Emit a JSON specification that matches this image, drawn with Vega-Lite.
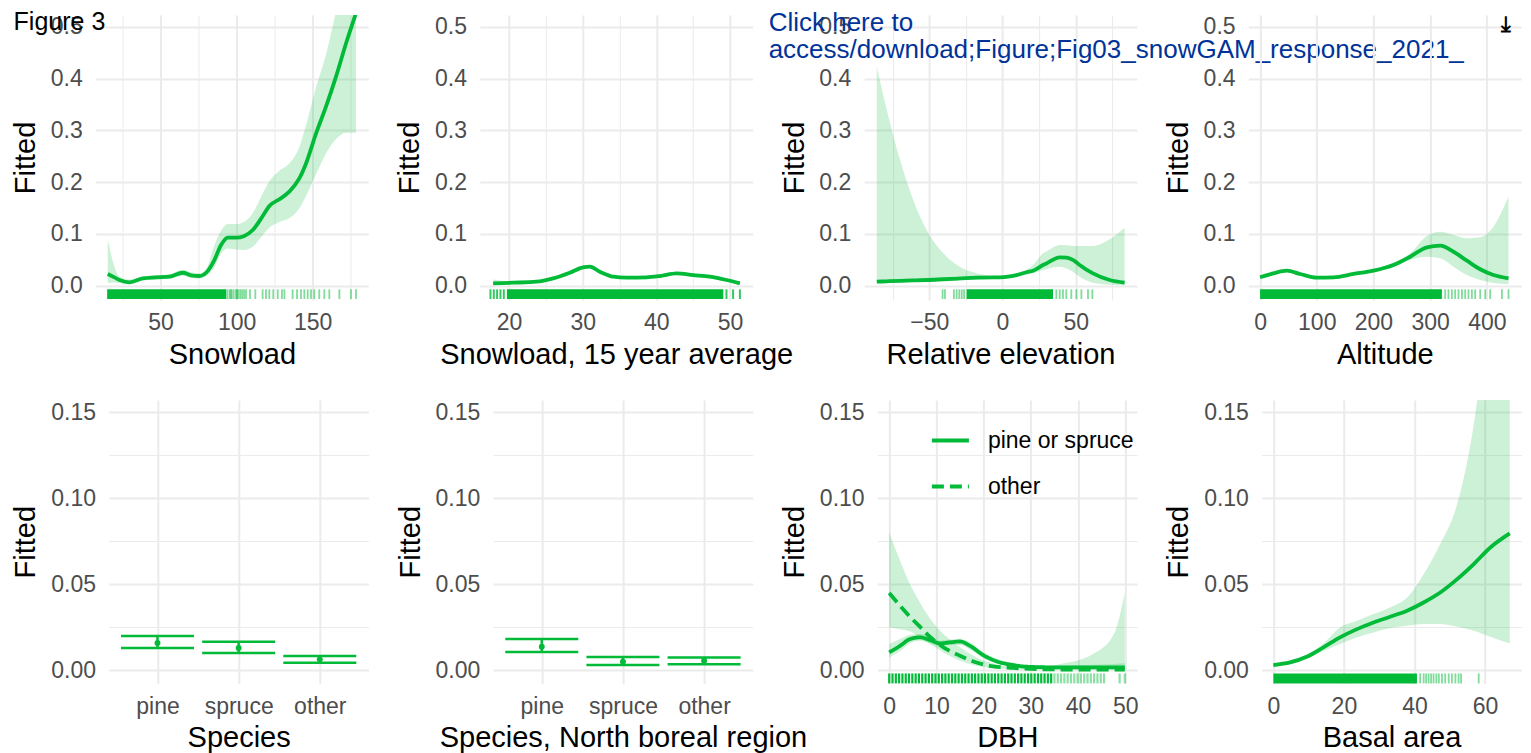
{
  "$schema": "https://vega.github.io/schema/vega-lite/v6.json",
  "background": "white",
  "padding": {"left": 10.5, "top": 10, "right": 0, "bottom": 0},
  "config": {
    "view": {"stroke": null},
    "font": "Liberation Sans",
    "axis": {"domain": false, "ticks": false, "tickSize": 0, "grid": true, "labelFont": "Liberation Sans", "labelFontSize": 23, "labelColor": "#4D4D4D", "titleFont": "Liberation Sans", "titleFontSize": 29, "titleFontWeight": "normal", "titleColor": "#000000", "gridColor": "#EBEBEB", "labelFlush": false, "labelOverlap": false, "titleLimit": 2000, "labelLimit": 500},
    "axisX": {"labelPadding": 11.8, "titlePadding": 5.6},
    "axisY": {"labelPadding": 13.3, "titlePadding": 9.8}
  },
  "datasets": {
    "snow": [
      {"x": 15.4, "fit": 0.0226, "lo": 0.005, "hi": 0.0895},
      {"x": 19.8, "fit": 0.016, "lo": 0.006, "hi": 0.0367},
      {"x": 23.1, "fit": 0.011, "lo": 0.005, "hi": 0.0174},
      {"x": 29.7, "fit": 0.0065, "lo": 0.003, "hi": 0.012},
      {"x": 38.4, "fit": 0.014, "lo": 0.01, "hi": 0.018},
      {"x": 47, "fit": 0.016, "lo": 0.012, "hi": 0.02},
      {"x": 55.9, "fit": 0.0174, "lo": 0.013, "hi": 0.022},
      {"x": 64.6, "fit": 0.025, "lo": 0.019, "hi": 0.031},
      {"x": 70.1, "fit": 0.02, "lo": 0.015, "hi": 0.026},
      {"x": 75.6, "fit": 0.0187, "lo": 0.014, "hi": 0.024},
      {"x": 80, "fit": 0.025, "lo": 0.019, "hi": 0.032},
      {"x": 85.4, "fit": 0.0496, "lo": 0.035, "hi": 0.078},
      {"x": 89.8, "fit": 0.0786, "lo": 0.062, "hi": 0.106},
      {"x": 94.2, "fit": 0.093, "lo": 0.072, "hi": 0.119},
      {"x": 99.6, "fit": 0.0927, "lo": 0.07, "hi": 0.119},
      {"x": 105.1, "fit": 0.096, "lo": 0.069, "hi": 0.1236},
      {"x": 110.6, "fit": 0.1075, "lo": 0.075, "hi": 0.14},
      {"x": 117.2, "fit": 0.1346, "lo": 0.098, "hi": 0.178},
      {"x": 121.5, "fit": 0.154, "lo": 0.112, "hi": 0.2015},
      {"x": 128.1, "fit": 0.1668, "lo": 0.123, "hi": 0.222},
      {"x": 134.6, "fit": 0.1815, "lo": 0.13, "hi": 0.236},
      {"x": 141.2, "fit": 0.207, "lo": 0.149, "hi": 0.268},
      {"x": 145.6, "fit": 0.236, "lo": 0.173, "hi": 0.31},
      {"x": 152.2, "fit": 0.294, "lo": 0.215, "hi": 0.383},
      {"x": 158.7, "fit": 0.3456, "lo": 0.255, "hi": 0.446},
      {"x": 165.3, "fit": 0.4035, "lo": 0.283, "hi": 0.53},
      {"x": 171.9, "fit": 0.468, "lo": 0.2954, "hi": 0.62},
      {"x": 178.4, "fit": 0.526, "lo": 0.2954, "hi": 0.72}
    ],
    "rug_snow": [
      {"x": 15.0, "x2": 93.1},
      {"x": 93.8}, {"x": 95.3}, {"x": 96.1}, {"x": 96.8}, {"x": 98.1}, {"x": 99.6}, {"x": 100.3}, {"x": 101.0}, {"x": 102.3}, {"x": 103.6}, {"x": 104.9}, {"x": 106.2}, {"x": 108.8}, {"x": 112.3}, {"x": 117.1}, {"x": 119.3}, {"x": 121.5}, {"x": 124.1}, {"x": 127.0}, {"x": 129.8}, {"x": 131.4}, {"x": 136.8}, {"x": 139.7}, {"x": 142.3}, {"x": 144.5}, {"x": 146.7}, {"x": 148.9}, {"x": 151.0}, {"x": 154.3}, {"x": 157.6}, {"x": 160.9}, {"x": 167.5}, {"x": 175.1}, {"x": 178.4}
    ],
    "snow15": [
      {"x": 17.83, "fit": 0.0046, "lo": 0.002, "hi": 0.012},
      {"x": 20.55, "fit": 0.0058, "lo": 0.004, "hi": 0.008},
      {"x": 23.72, "fit": 0.0077, "lo": 0.006, "hi": 0.0095},
      {"x": 25.98, "fit": 0.0142, "lo": 0.012, "hi": 0.0165},
      {"x": 28.25, "fit": 0.0251, "lo": 0.022, "hi": 0.028},
      {"x": 30.06, "fit": 0.0355, "lo": 0.032, "hi": 0.039},
      {"x": 30.97, "fit": 0.0367, "lo": 0.033, "hi": 0.04},
      {"x": 32.32, "fit": 0.027, "lo": 0.024, "hi": 0.03},
      {"x": 34.13, "fit": 0.0174, "lo": 0.015, "hi": 0.02},
      {"x": 35.95, "fit": 0.0155, "lo": 0.013, "hi": 0.018},
      {"x": 38.67, "fit": 0.0161, "lo": 0.0135, "hi": 0.0187},
      {"x": 40.48, "fit": 0.0187, "lo": 0.016, "hi": 0.0215},
      {"x": 42.74, "fit": 0.0239, "lo": 0.021, "hi": 0.027},
      {"x": 45.0, "fit": 0.0206, "lo": 0.018, "hi": 0.0235},
      {"x": 47.27, "fit": 0.0174, "lo": 0.0145, "hi": 0.0205},
      {"x": 49.53, "fit": 0.011, "lo": 0.008, "hi": 0.0145},
      {"x": 51.35, "fit": 0.0046, "lo": 0.002, "hi": 0.008}
    ],
    "rug_snow15": [
      {"x": 19.7, "x2": 49.1},
      {"x": 17.47}, {"x": 17.92}, {"x": 18.37}, {"x": 18.83}, {"x": 19.28}, {"x": 49.53}, {"x": 50.43}, {"x": 51.35}
    ],
    "relel": [
      {"x": -85.85, "fit": 0.0077, "lo": 0.005, "hi": 0.423},
      {"x": -79.0, "fit": 0.0085, "lo": 0.0055, "hi": 0.339},
      {"x": -70.0, "fit": 0.0095, "lo": 0.006, "hi": 0.243},
      {"x": -60.9, "fit": 0.0103, "lo": 0.007, "hi": 0.165},
      {"x": -51.8, "fit": 0.011, "lo": 0.008, "hi": 0.1075},
      {"x": -40.4, "fit": 0.0125, "lo": 0.009, "hi": 0.0625},
      {"x": -29.1, "fit": 0.014, "lo": 0.0105, "hi": 0.0367},
      {"x": -17.7, "fit": 0.0155, "lo": 0.012, "hi": 0.024},
      {"x": -6.4, "fit": 0.016, "lo": 0.013, "hi": 0.0187},
      {"x": -1.8, "fit": 0.016, "lo": 0.0135, "hi": 0.019},
      {"x": 5.0, "fit": 0.018, "lo": 0.015, "hi": 0.0206},
      {"x": 9.6, "fit": 0.0206, "lo": 0.017, "hi": 0.024},
      {"x": 16.4, "fit": 0.026, "lo": 0.021, "hi": 0.0303},
      {"x": 20.9, "fit": 0.029, "lo": 0.024, "hi": 0.04},
      {"x": 27.7, "fit": 0.04, "lo": 0.03, "hi": 0.0625},
      {"x": 30.0, "fit": 0.043, "lo": 0.032, "hi": 0.066},
      {"x": 39.1, "fit": 0.0548, "lo": 0.0367, "hi": 0.0786},
      {"x": 43.7, "fit": 0.054, "lo": 0.033, "hi": 0.078},
      {"x": 50.5, "fit": 0.045, "lo": 0.022, "hi": 0.0766},
      {"x": 52.7, "fit": 0.04, "lo": 0.0174, "hi": 0.0766},
      {"x": 61.8, "fit": 0.0239, "lo": 0.0058, "hi": 0.0766},
      {"x": 73.2, "fit": 0.011, "lo": 0.002, "hi": 0.0895},
      {"x": 83.4, "fit": 0.0058, "lo": 0.001, "hi": 0.112}
    ],
    "rug_relel": [
      {"x": -24.5, "x2": 34.5},
      {"x": -40.9}, {"x": -39.3}, {"x": -33.2}, {"x": -31.3}, {"x": -29.5}, {"x": -27.8}, {"x": -26.2}, {"x": 36.8}, {"x": 39.1}, {"x": 41.3}, {"x": 43.6}, {"x": 47.0}, {"x": 50.5}, {"x": 53.9}, {"x": 58.4}, {"x": 61.4}
    ],
    "alt": [
      {"x": 0, "fit": 0.0162, "lo": 0.013, "hi": 0.019},
      {"x": 23.5, "fit": 0.0239, "lo": 0.021, "hi": 0.027},
      {"x": 47.2, "fit": 0.029, "lo": 0.026, "hi": 0.031},
      {"x": 70.6, "fit": 0.0226, "lo": 0.02, "hi": 0.025},
      {"x": 100.1, "fit": 0.0155, "lo": 0.013, "hi": 0.018},
      {"x": 129.4, "fit": 0.0162, "lo": 0.014, "hi": 0.0185},
      {"x": 164.7, "fit": 0.0226, "lo": 0.02, "hi": 0.025},
      {"x": 200, "fit": 0.029, "lo": 0.026, "hi": 0.032},
      {"x": 235.3, "fit": 0.04, "lo": 0.036, "hi": 0.045},
      {"x": 264.7, "fit": 0.056, "lo": 0.0496, "hi": 0.0625},
      {"x": 294.2, "fit": 0.074, "lo": 0.056, "hi": 0.096},
      {"x": 317.7, "fit": 0.0772, "lo": 0.053, "hi": 0.104},
      {"x": 341.1, "fit": 0.0656, "lo": 0.0367, "hi": 0.098},
      {"x": 364.8, "fit": 0.0483, "lo": 0.0206, "hi": 0.0915},
      {"x": 388.3, "fit": 0.0317, "lo": 0.011, "hi": 0.0934},
      {"x": 411.7, "fit": 0.0206, "lo": 0.005, "hi": 0.114},
      {"x": 438.2, "fit": 0.0142, "lo": 0.003, "hi": 0.172}
    ],
    "rug_alt": [
      {"x": 0, "x2": 320.7},
      {"x": 326.5}, {"x": 332.3}, {"x": 338.3}, {"x": 344.1}, {"x": 350.0}, {"x": 356.0}, {"x": 361.8}, {"x": 367.6}, {"x": 373.6}, {"x": 379.4}, {"x": 388.3}, {"x": 397.1}, {"x": 405.9}, {"x": 426.6}, {"x": 438.2}
    ],
    "species": [
      {"sp": "pine", "fit": 0.0157, "lo": 0.0128, "hi": 0.0198},
      {"sp": "spruce", "fit": 0.0128, "lo": 0.0099, "hi": 0.0165},
      {"sp": "other", "fit": 0.0062, "lo": 0.0042, "hi": 0.0081}
    ],
    "speciesN": [
      {"sp": "pine", "fit": 0.0136, "lo": 0.0105, "hi": 0.018},
      {"sp": "spruce", "fit": 0.0048, "lo": 0.0029, "hi": 0.0076},
      {"sp": "other", "fit": 0.0054, "lo": 0.0033, "hi": 0.0073}
    ],
    "dbh": [
      {"series": "pine or spruce", "x": 0, "fit": 0.0102, "lo": 0.0073, "hi": 0.0151},
      {"series": "pine or spruce", "x": 2.3, "fit": 0.0141, "lo": 0.011, "hi": 0.018},
      {"series": "pine or spruce", "x": 4.4, "fit": 0.018, "lo": 0.0155, "hi": 0.0205},
      {"series": "pine or spruce", "x": 6.5, "fit": 0.019, "lo": 0.017, "hi": 0.021},
      {"series": "pine or spruce", "x": 8.6, "fit": 0.0175, "lo": 0.0155, "hi": 0.0195},
      {"series": "pine or spruce", "x": 10.8, "fit": 0.0155, "lo": 0.014, "hi": 0.017},
      {"series": "pine or spruce", "x": 12.9, "fit": 0.0161, "lo": 0.0145, "hi": 0.0177},
      {"series": "pine or spruce", "x": 15.0, "fit": 0.0166, "lo": 0.0145, "hi": 0.018},
      {"series": "pine or spruce", "x": 17.1, "fit": 0.0141, "lo": 0.012, "hi": 0.0162},
      {"series": "pine or spruce", "x": 19.9, "fit": 0.0087, "lo": 0.007, "hi": 0.0105},
      {"series": "pine or spruce", "x": 22.8, "fit": 0.005, "lo": 0.0037, "hi": 0.0065},
      {"series": "pine or spruce", "x": 26.3, "fit": 0.0029, "lo": 0.002, "hi": 0.004},
      {"series": "pine or spruce", "x": 29.1, "fit": 0.0019, "lo": 0.001, "hi": 0.003},
      {"series": "pine or spruce", "x": 36.2, "fit": 0.0015, "lo": 0.0008, "hi": 0.0025},
      {"series": "pine or spruce", "x": 43.2, "fit": 0.0015, "lo": 0.0007, "hi": 0.003},
      {"series": "pine or spruce", "x": 49.9, "fit": 0.0015, "lo": 0.0005, "hi": 0.004},
      {"series": "other", "x": 0, "fit": 0.0448, "lo": 0.0248, "hi": 0.08},
      {"series": "other", "x": 2.3, "fit": 0.0374, "lo": 0.0238, "hi": 0.0636},
      {"series": "other", "x": 4.4, "fit": 0.031, "lo": 0.0225, "hi": 0.05},
      {"series": "other", "x": 6.5, "fit": 0.0252, "lo": 0.019, "hi": 0.0393},
      {"series": "other", "x": 8.6, "fit": 0.0194, "lo": 0.0151, "hi": 0.0302},
      {"series": "other", "x": 11.5, "fit": 0.0132, "lo": 0.0102, "hi": 0.021},
      {"series": "other", "x": 15.0, "fit": 0.0083, "lo": 0.0054, "hi": 0.0132},
      {"series": "other", "x": 18.5, "fit": 0.0044, "lo": 0.0025, "hi": 0.0073},
      {"series": "other", "x": 22.0, "fit": 0.0021, "lo": 0.001, "hi": 0.0038},
      {"series": "other", "x": 26.3, "fit": 0.0012, "lo": 0.0005, "hi": 0.002},
      {"series": "other", "x": 32.6, "fit": 0.0004, "lo": 0.0001, "hi": 0.0018},
      {"series": "other", "x": 36.2, "fit": 0.0003, "lo": 0.0001, "hi": 0.0035},
      {"series": "other", "x": 39.7, "fit": 0.0003, "lo": 0.0001, "hi": 0.0054},
      {"series": "other", "x": 43.2, "fit": 0.0002, "lo": 0.0001, "hi": 0.0093},
      {"series": "other", "x": 47.6, "fit": 0.0002, "lo": 0.0001, "hi": 0.021},
      {"series": "other", "x": 49.9, "fit": 0.0002, "lo": 0.0001, "hi": 0.045}
    ],
    "rug_dbh": [
      {"x": 0}, {"x": 0.7}, {"x": 1.4}, {"x": 2.1}, {"x": 2.8}, {"x": 3.5}, {"x": 4.2}, {"x": 4.9}, {"x": 5.6}, {"x": 6.3}, {"x": 7.0}, {"x": 7.7}, {"x": 8.4}, {"x": 9.1}, {"x": 9.8}, {"x": 10.5}, {"x": 11.2}, {"x": 11.9}, {"x": 12.6}, {"x": 13.3}, {"x": 14.0}, {"x": 14.7}, {"x": 15.4}, {"x": 16.1}, {"x": 16.8}, {"x": 17.5}, {"x": 18.2}, {"x": 18.9}, {"x": 19.6}, {"x": 20.3}, {"x": 21.0}, {"x": 21.7}, {"x": 22.4}, {"x": 23.1}, {"x": 23.8}, {"x": 24.5}, {"x": 25.2}, {"x": 25.9}, {"x": 26.6}, {"x": 27.3}, {"x": 28.0}, {"x": 28.7}, {"x": 29.4}, {"x": 30.1}, {"x": 30.8}, {"x": 31.5}, {"x": 32.2}, {"x": 32.9}, {"x": 33.6}, {"x": 34.3}, {"x": 35.0}, {"x": 35.7}, {"x": 36.4}, {"x": 37.1}, {"x": 37.8}, {"x": 38.5}, {"x": 39.2}, {"x": 39.9}, {"x": 40.6}, {"x": 41.3}, {"x": 42.0}, {"x": 42.7}, {"x": 43.4}, {"x": 44.1}, {"x": 44.8}, {"x": 45.5}, {"x": 48.8}, {"x": 49.9}
    ],
    "basal": [
      {"x": 0, "fit": 0.0029, "lo": 0.002, "hi": 0.004},
      {"x": 4.73, "fit": 0.0044, "lo": 0.0033, "hi": 0.0057},
      {"x": 9.47, "fit": 0.0077, "lo": 0.0065, "hi": 0.009},
      {"x": 14.2, "fit": 0.0132, "lo": 0.011, "hi": 0.0155},
      {"x": 18.9, "fit": 0.019, "lo": 0.0151, "hi": 0.0248},
      {"x": 23.7, "fit": 0.0238, "lo": 0.019, "hi": 0.0287},
      {"x": 28.4, "fit": 0.0277, "lo": 0.0219, "hi": 0.0326},
      {"x": 33.1, "fit": 0.031, "lo": 0.0244, "hi": 0.0364},
      {"x": 37.9, "fit": 0.0345, "lo": 0.0258, "hi": 0.0422},
      {"x": 42.6, "fit": 0.0393, "lo": 0.0268, "hi": 0.0558},
      {"x": 47.3, "fit": 0.0451, "lo": 0.0268, "hi": 0.0733},
      {"x": 52.1, "fit": 0.0529, "lo": 0.0252, "hi": 0.0966},
      {"x": 56.8, "fit": 0.0617, "lo": 0.0229, "hi": 0.143},
      {"x": 61.5, "fit": 0.0713, "lo": 0.0194, "hi": 0.22},
      {"x": 67.0, "fit": 0.0795, "lo": 0.0155, "hi": 0.3}
    ],
    "rug_basal": [
      {"x": 0, "x2": 40.7},
      {"x": 41.6}, {"x": 42.6}, {"x": 43.3}, {"x": 44.0}, {"x": 44.7}, {"x": 45.4}, {"x": 46.2}, {"x": 46.9}, {"x": 47.8}, {"x": 48.7}, {"x": 49.7}, {"x": 50.6}, {"x": 51.6}, {"x": 52.5}, {"x": 53.2}, {"x": 58.2}
    ]
  },
  "spacing": 30,
  "vconcat": [
    {
      "bounds": "flush",
      "spacing": 111.3,
      "hconcat": [
        {
          "width": 272.8, "height": 285,
          "layer": [
            {"data": {"name": "snow"}, "mark": {"type": "area", "clip": true, "interpolate": "monotone", "color": "#00BA38", "opacity": 0.2},
             "encoding": {
               "x": {"field": "x", "type": "quantitative", "title": "Snowload", "scale": {"domain": [7.35, 186.5], "nice": false, "zero": false},
                     "axis": {"values": [25, 50, 75, 100, 125, 150, 175], "labelExpr": "datum.value % 50 === 0 ? datum.label : ''", "gridWidth": {"condition": {"test": "datum.value % 50 === 0", "value": 2}, "value": 1}}},
               "y": {"field": "lo", "type": "quantitative", "title": "Fitted", "scale": {"domain": [-0.0276, 0.5226], "nice": false, "zero": false},
                     "axis": {"values": [0, 0.05, 0.1, 0.15, 0.2, 0.25, 0.3, 0.35, 0.4, 0.45, 0.5], "format": ".1f", "labelExpr": "round(datum.value * 100) % 10 === 0 ? datum.label : ''", "gridWidth": {"condition": {"test": "round(datum.value * 100) % 10 === 0", "value": 2}, "value": 1}}},
               "y2": {"field": "hi"}
             }},
            {"data": {"name": "rug_snow"}, "transform": [{"filter": "isValid(datum.x2)"}], "mark": {"type": "rect", "color": "#00BA38"},
             "encoding": {"x": {"field": "x", "type": "quantitative", "title": "Snowload"}, "x2": {"field": "x2"}, "y": {"datum": -0.007, "type": "quantitative", "title": "Fitted"}, "y2": {"datum": -0.0257}}},
            {"data": {"name": "rug_snow"}, "transform": [{"filter": "!isValid(datum.x2)"}], "mark": {"type": "rule", "color": "#00BA38", "strokeWidth": 1.8, "opacity": 0.5},
             "encoding": {"x": {"field": "x", "type": "quantitative", "title": "Snowload"}, "y": {"datum": -0.007, "type": "quantitative", "title": "Fitted"}, "y2": {"datum": -0.0257}}},
            {"data": {"name": "snow"}, "mark": {"type": "line", "clip": true, "interpolate": "monotone", "color": "#00BA38", "strokeWidth": 3.8},
             "encoding": {"x": {"field": "x", "type": "quantitative", "title": "Snowload"}, "y": {"field": "fit", "type": "quantitative", "title": "Fitted"}}},
            {"data": {"values": [{}]}, "mark": {"type": "text", "text": "Figure 3", "align": "left", "baseline": "alphabetic", "fontSize": 25, "font": "Liberation Sans", "color": "#000000"},
             "encoding": {"x": {"datum": -46.45, "type": "quantitative", "title": "Snowload"}, "y": {"datum": 0.4936, "type": "quantitative", "title": "Fitted"}}}
          ]
        },
        {
          "width": 272.8, "height": 285,
          "layer": [
            {"data": {"name": "snow15"}, "mark": {"type": "area", "clip": true, "interpolate": "monotone", "color": "#00BA38", "opacity": 0.2},
             "encoding": {
               "x": {"field": "x", "type": "quantitative", "title": "Snowload, 15 year average", "scale": {"domain": [16.02, 53.08], "nice": false, "zero": false},
                     "axis": {"values": [20, 25, 30, 35, 40, 45, 50], "labelExpr": "datum.value % 10 === 0 ? datum.label : ''", "gridWidth": {"condition": {"test": "datum.value % 10 === 0", "value": 2}, "value": 1}}},
               "y": {"field": "lo", "type": "quantitative", "title": "Fitted", "scale": {"domain": [-0.0276, 0.5226], "nice": false, "zero": false},
                     "axis": {"values": [0, 0.05, 0.1, 0.15, 0.2, 0.25, 0.3, 0.35, 0.4, 0.45, 0.5], "format": ".1f", "labelExpr": "round(datum.value * 100) % 10 === 0 ? datum.label : ''", "gridWidth": {"condition": {"test": "round(datum.value * 100) % 10 === 0", "value": 2}, "value": 1}}},
               "y2": {"field": "hi"}
             }},
            {"data": {"name": "rug_snow15"}, "transform": [{"filter": "isValid(datum.x2)"}], "mark": {"type": "rect", "color": "#00BA38"},
             "encoding": {"x": {"field": "x", "type": "quantitative", "title": "Snowload, 15 year average"}, "x2": {"field": "x2"}, "y": {"datum": -0.007, "type": "quantitative", "title": "Fitted"}, "y2": {"datum": -0.0257}}},
            {"data": {"name": "rug_snow15"}, "transform": [{"filter": "!isValid(datum.x2)"}], "mark": {"type": "rule", "color": "#00BA38", "strokeWidth": 2, "opacity": 0.8},
             "encoding": {"x": {"field": "x", "type": "quantitative", "title": "Snowload, 15 year average"}, "y": {"datum": -0.007, "type": "quantitative", "title": "Fitted"}, "y2": {"datum": -0.0257}}},
            {"data": {"name": "snow15"}, "mark": {"type": "line", "clip": true, "interpolate": "monotone", "color": "#00BA38", "strokeWidth": 3.8},
             "encoding": {"x": {"field": "x", "type": "quantitative", "title": "Snowload, 15 year average"}, "y": {"field": "fit", "type": "quantitative", "title": "Fitted"}}}
          ]
        },
        {
          "width": 272.8, "height": 285,
          "layer": [
            {"data": {"name": "relel"}, "mark": {"type": "area", "clip": true, "interpolate": "monotone", "color": "#00BA38", "opacity": 0.2},
             "encoding": {
               "x": {"field": "x", "type": "quantitative", "title": "Relative elevation", "scale": {"domain": [-94.5, 91.8], "nice": false, "zero": false},
                     "axis": {"values": [-75, -50, -25, 0, 25, 50, 75], "labelExpr": "datum.value % 50 === 0 ? datum.label : ''", "gridWidth": {"condition": {"test": "datum.value % 50 === 0", "value": 2}, "value": 1}}},
               "y": {"field": "lo", "type": "quantitative", "title": "Fitted", "scale": {"domain": [-0.0276, 0.5226], "nice": false, "zero": false},
                     "axis": {"values": [0, 0.05, 0.1, 0.15, 0.2, 0.25, 0.3, 0.35, 0.4, 0.45, 0.5], "format": ".1f", "labelExpr": "round(datum.value * 100) % 10 === 0 ? datum.label : ''", "gridWidth": {"condition": {"test": "round(datum.value * 100) % 10 === 0", "value": 2}, "value": 1}}},
               "y2": {"field": "hi"}
             }},
            {"data": {"name": "rug_relel"}, "transform": [{"filter": "isValid(datum.x2)"}], "mark": {"type": "rect", "color": "#00BA38"},
             "encoding": {"x": {"field": "x", "type": "quantitative", "title": "Relative elevation"}, "x2": {"field": "x2"}, "y": {"datum": -0.007, "type": "quantitative", "title": "Fitted"}, "y2": {"datum": -0.0257}}},
            {"data": {"name": "rug_relel"}, "transform": [{"filter": "!isValid(datum.x2)"}], "mark": {"type": "rule", "color": "#00BA38", "strokeWidth": 1.8, "opacity": 0.5},
             "encoding": {"x": {"field": "x", "type": "quantitative", "title": "Relative elevation"}, "y": {"datum": -0.007, "type": "quantitative", "title": "Fitted"}, "y2": {"datum": -0.0257}}},
            {"data": {"name": "relel"}, "mark": {"type": "line", "clip": true, "interpolate": "monotone", "color": "#00BA38", "strokeWidth": 3.8},
             "encoding": {"x": {"field": "x", "type": "quantitative", "title": "Relative elevation"}, "y": {"field": "fit", "type": "quantitative", "title": "Fitted"}}},
            {"data": {"values": [{}]}, "mark": {"type": "text", "text": ["Click here to", "access/download;Figure;Fig03_snowGAM_response_2021_"], "lineHeight": 27.3, "align": "left", "baseline": "alphabetic", "fontSize": 26, "font": "Liberation Sans", "color": "#003399"},
             "encoding": {"x": {"datum": -159.7, "type": "quantitative", "title": "Relative elevation"}, "y": {"datum": 0.4917, "type": "quantitative", "title": "Fitted"}}}
          ]
        },
        {
          "width": 272.8, "height": 285,
          "layer": [
            {"data": {"name": "alt"}, "mark": {"type": "area", "clip": true, "interpolate": "monotone", "color": "#00BA38", "opacity": 0.2},
             "encoding": {
               "x": {"field": "x", "type": "quantitative", "title": "Altitude", "scale": {"domain": [-20.6, 460.6], "nice": false, "zero": false},
                     "axis": {"values": [0, 50, 100, 150, 200, 250, 300, 350, 400, 450], "labelExpr": "datum.value % 100 === 0 ? datum.label : ''", "gridWidth": {"condition": {"test": "datum.value % 100 === 0", "value": 2}, "value": 1}}},
               "y": {"field": "lo", "type": "quantitative", "title": "Fitted", "scale": {"domain": [-0.0276, 0.5226], "nice": false, "zero": false},
                     "axis": {"values": [0, 0.05, 0.1, 0.15, 0.2, 0.25, 0.3, 0.35, 0.4, 0.45, 0.5], "format": ".1f", "labelExpr": "round(datum.value * 100) % 10 === 0 ? datum.label : ''", "gridWidth": {"condition": {"test": "round(datum.value * 100) % 10 === 0", "value": 2}, "value": 1}}},
               "y2": {"field": "hi"}
             }},
            {"data": {"name": "rug_alt"}, "transform": [{"filter": "isValid(datum.x2)"}], "mark": {"type": "rect", "color": "#00BA38"},
             "encoding": {"x": {"field": "x", "type": "quantitative", "title": "Altitude"}, "x2": {"field": "x2"}, "y": {"datum": -0.007, "type": "quantitative", "title": "Fitted"}, "y2": {"datum": -0.0257}}},
            {"data": {"name": "rug_alt"}, "transform": [{"filter": "!isValid(datum.x2)"}], "mark": {"type": "rule", "color": "#00BA38", "strokeWidth": 1.8, "opacity": 0.5},
             "encoding": {"x": {"field": "x", "type": "quantitative", "title": "Altitude"}, "y": {"datum": -0.007, "type": "quantitative", "title": "Fitted"}, "y2": {"datum": -0.0257}}},
            {"data": {"name": "alt"}, "mark": {"type": "line", "clip": true, "interpolate": "monotone", "color": "#00BA38", "strokeWidth": 3.8},
             "encoding": {"x": {"field": "x", "type": "quantitative", "title": "Altitude"}, "y": {"field": "fit", "type": "quantitative", "title": "Fitted"}}},
            {"data": {"values": [{}]}, "mark": {"type": "text", "text": "⤓", "align": "center", "baseline": "middle", "fontSize": 22, "fontWeight": "bold", "font": "DejaVu Sans", "color": "#000000"},
             "encoding": {"x": {"datum": 433.3, "type": "quantitative", "title": "Altitude"}, "y": {"datum": 0.504, "type": "quantitative", "title": "Fitted"}}}
          ]
        }
      ]
    },
    {
      "bounds": "flush",
      "spacing": 12.3,
      "hconcat": [
        {"width": 1, "height": 1, "data": {"values": [{}]}, "mark": {"type": "point", "opacity": 0, "size": 0}},
        {
          "bounds": "flush",
          "spacing": 124.3,
          "hconcat": [
            {
              "width": 259.7, "height": 283.4,
              "data": {"name": "species"},
              "layer": [
                {"mark": {"type": "rule", "color": "#00BA38", "strokeWidth": 2.5},
                 "encoding": {
                   "x": {"field": "sp", "type": "nominal", "title": "Species", "sort": null, "scale": {"type": "point", "domain": ["pine", "spruce", "other"], "padding": 0.6}, "axis": {"grid": true, "gridWidth": 2, "labelAngle": 0}},
                   "y": {"field": "lo", "type": "quantitative", "title": "Fitted", "scale": {"domain": [-0.0078, 0.1572], "nice": false, "zero": false},
                         "axis": {"values": [0, 0.025, 0.05, 0.075, 0.1, 0.125, 0.15], "format": ".2f", "labelExpr": "round(datum.value * 1000) % 50 === 0 ? datum.label : ''", "gridWidth": {"condition": {"test": "round(datum.value * 1000) % 50 === 0", "value": 2}, "value": 1}}},
                   "y2": {"field": "hi"}
                 }},
                {"mark": {"type": "tick", "orient": "horizontal", "size": 73, "thickness": 2.5, "color": "#00BA38", "opacity": 1},
                 "encoding": {"x": {"field": "sp", "type": "nominal", "title": "Species", "sort": null}, "y": {"field": "lo", "type": "quantitative", "title": "Fitted"}}},
                {"mark": {"type": "tick", "orient": "horizontal", "size": 73, "thickness": 2.5, "color": "#00BA38", "opacity": 1},
                 "encoding": {"x": {"field": "sp", "type": "nominal", "title": "Species", "sort": null}, "y": {"field": "hi", "type": "quantitative", "title": "Fitted"}}},
                {"mark": {"type": "point", "filled": true, "size": 35, "color": "#00BA38", "opacity": 1},
                 "encoding": {"x": {"field": "sp", "type": "nominal", "title": "Species", "sort": null}, "y": {"field": "fit", "type": "quantitative", "title": "Fitted"}}}
              ]
            },
            {
              "width": 259.7, "height": 283.4,
              "data": {"name": "speciesN"},
              "layer": [
                {"mark": {"type": "rule", "color": "#00BA38", "strokeWidth": 2.5},
                 "encoding": {
                   "x": {"field": "sp", "type": "nominal", "title": "Species, North boreal region", "sort": null, "scale": {"type": "point", "domain": ["pine", "spruce", "other"], "padding": 0.6}, "axis": {"grid": true, "gridWidth": 2, "labelAngle": 0}},
                   "y": {"field": "lo", "type": "quantitative", "title": "Fitted", "scale": {"domain": [-0.0078, 0.1572], "nice": false, "zero": false},
                         "axis": {"values": [0, 0.025, 0.05, 0.075, 0.1, 0.125, 0.15], "format": ".2f", "labelExpr": "round(datum.value * 1000) % 50 === 0 ? datum.label : ''", "gridWidth": {"condition": {"test": "round(datum.value * 1000) % 50 === 0", "value": 2}, "value": 1}}},
                   "y2": {"field": "hi"}
                 }},
                {"mark": {"type": "tick", "orient": "horizontal", "size": 73, "thickness": 2.5, "color": "#00BA38", "opacity": 1},
                 "encoding": {"x": {"field": "sp", "type": "nominal", "title": "Species, North boreal region", "sort": null}, "y": {"field": "lo", "type": "quantitative", "title": "Fitted"}}},
                {"mark": {"type": "tick", "orient": "horizontal", "size": 73, "thickness": 2.5, "color": "#00BA38", "opacity": 1},
                 "encoding": {"x": {"field": "sp", "type": "nominal", "title": "Species, North boreal region", "sort": null}, "y": {"field": "hi", "type": "quantitative", "title": "Fitted"}}},
                {"mark": {"type": "point", "filled": true, "size": 35, "color": "#00BA38", "opacity": 1},
                 "encoding": {"x": {"field": "sp", "type": "nominal", "title": "Species, North boreal region", "sort": null}, "y": {"field": "fit", "type": "quantitative", "title": "Fitted"}}}
              ]
            },
            {
              "width": 259.7, "height": 283.4,
              "layer": [
                {"data": {"name": "dbh"}, "mark": {"type": "area", "clip": true, "interpolate": "monotone", "color": "#00BA38", "opacity": 0.2},
                 "encoding": {
                   "x": {"field": "x", "type": "quantitative", "title": "DBH", "scale": {"domain": [-2.5, 52.5], "nice": false, "zero": false},
                         "axis": {"values": [0, 5, 10, 15, 20, 25, 30, 35, 40, 45, 50], "labelExpr": "datum.value % 10 === 0 ? datum.label : ''", "gridWidth": {"condition": {"test": "datum.value % 10 === 0", "value": 2}, "value": 1}}},
                   "y": {"field": "lo", "type": "quantitative", "title": "Fitted", "scale": {"domain": [-0.0078, 0.1572], "nice": false, "zero": false},
                         "axis": {"values": [0, 0.025, 0.05, 0.075, 0.1, 0.125, 0.15], "format": ".2f", "labelExpr": "round(datum.value * 1000) % 50 === 0 ? datum.label : ''", "gridWidth": {"condition": {"test": "round(datum.value * 1000) % 50 === 0", "value": 2}, "value": 1}}},
                   "y2": {"field": "hi"},
                   "detail": {"field": "series"}
                 }},
                {"data": {"name": "rug_dbh"}, "mark": {"type": "rule", "color": "#00BA38", "strokeWidth": 2.2},
                 "encoding": {"x": {"field": "x", "type": "quantitative", "title": "DBH"}, "y": {"datum": -0.002, "type": "quantitative", "title": "Fitted"}, "y2": {"datum": -0.0078},
                              "opacity": {"condition": {"test": "datum.x > 34.5", "value": 0.45}, "value": 1}}},
                {"data": {"name": "dbh"}, "mark": {"type": "line", "clip": true, "interpolate": "monotone", "color": "#00BA38", "strokeWidth": 3.8},
                 "encoding": {"x": {"field": "x", "type": "quantitative", "title": "DBH"}, "y": {"field": "fit", "type": "quantitative", "title": "Fitted"},
                              "strokeDash": {"field": "series", "type": "nominal", "scale": {"domain": ["pine or spruce", "other"], "range": [[1, 0], [12, 6]]},
                                             "legend": {"title": null, "orient": "none", "legendX": 834.4, "legendY": 405, "padding": 0, "symbolType": "stroke", "symbolSize": 1369, "symbolStrokeWidth": 4, "symbolStrokeColor": "#00BA38", "labelFont": "Liberation Sans", "labelFontSize": 23, "labelColor": "#000000", "labelOffset": 17, "rowPadding": 13, "labelLimit": 500}}}}
              ]
            },
            {
              "width": 259.7, "height": 283.4,
              "layer": [
                {"data": {"name": "basal"}, "mark": {"type": "area", "clip": true, "interpolate": "monotone", "color": "#00BA38", "opacity": 0.2},
                 "encoding": {
                   "x": {"field": "x", "type": "quantitative", "title": "Basal area", "scale": {"domain": [-3.3, 70.3], "nice": false, "zero": false},
                         "axis": {"values": [0, 10, 20, 30, 40, 50, 60, 70], "labelExpr": "datum.value % 20 === 0 ? datum.label : ''", "gridWidth": {"condition": {"test": "datum.value % 20 === 0", "value": 2}, "value": 1}}},
                   "y": {"field": "lo", "type": "quantitative", "title": "Fitted", "scale": {"domain": [-0.0078, 0.1572], "nice": false, "zero": false},
                         "axis": {"values": [0, 0.025, 0.05, 0.075, 0.1, 0.125, 0.15], "format": ".2f", "labelExpr": "round(datum.value * 1000) % 50 === 0 ? datum.label : ''", "gridWidth": {"condition": {"test": "round(datum.value * 1000) % 50 === 0", "value": 2}, "value": 1}}},
                   "y2": {"field": "hi"}
                 }},
                {"data": {"name": "rug_basal"}, "transform": [{"filter": "isValid(datum.x2)"}], "mark": {"type": "rect", "color": "#00BA38"},
                 "encoding": {"x": {"field": "x", "type": "quantitative", "title": "Basal area"}, "x2": {"field": "x2"}, "y": {"datum": -0.002, "type": "quantitative", "title": "Fitted"}, "y2": {"datum": -0.0078}}},
                {"data": {"name": "rug_basal"}, "transform": [{"filter": "!isValid(datum.x2)"}], "mark": {"type": "rule", "color": "#00BA38", "strokeWidth": 1.8, "opacity": 0.5},
                 "encoding": {"x": {"field": "x", "type": "quantitative", "title": "Basal area"}, "y": {"datum": -0.002, "type": "quantitative", "title": "Fitted"}, "y2": {"datum": -0.0078}}},
                {"data": {"name": "basal"}, "mark": {"type": "line", "clip": true, "interpolate": "monotone", "color": "#00BA38", "strokeWidth": 3.8},
                 "encoding": {"x": {"field": "x", "type": "quantitative", "title": "Basal area"}, "y": {"field": "fit", "type": "quantitative", "title": "Fitted"}}}
              ]
            }
          ]
        }
      ]
    }
  ]
}
